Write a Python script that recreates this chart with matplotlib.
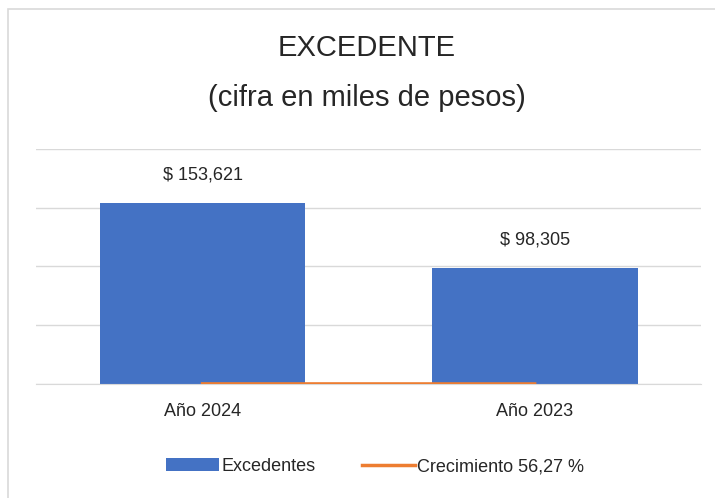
import matplotlib.pyplot as plt
from matplotlib.patches import Rectangle

# datos
categorias = ["Año 2024", "Año 2023"]
excedentes = [153621, 98305]
crecimiento = [56.27, 0]
etiquetas = ["$ 153,621", "$ 98,305"]

plt.rcParams['font.family'] = ['Liberation Sans', 'DejaVu Sans']

fig = plt.figure(figsize=(7.15, 4.98), dpi=100)
ax = fig.add_axes([0.051, 0.229, 0.929, 0.472])

x = list(range(len(categorias)))
barras = ax.bar(x, excedentes, width=0.62, color="#4472C4", label="Excedentes", zorder=2)
linea, = ax.plot(x, crecimiento, color="#ED7D31", linewidth=2.5, label="Crecimiento 56,27 %", zorder=3)

for xi, v, t in zip(x, excedentes, etiquetas):
    ax.annotate(t, (xi, v), xytext=(0, 14), textcoords="offset points",
                ha="center", va="bottom", fontsize=13, color="#262626")

ax.set_xlim(-0.5, 1.5)
ax.set_ylim(0, 200000)
ax.set_yticks([0, 50000, 100000, 150000, 200000])
ax.set_yticklabels([])
ax.tick_params(axis="y", length=0)
ax.tick_params(axis="x", length=0, pad=14, labelsize=13, labelcolor="#262626")
ax.set_xticks(x)
ax.set_xticklabels(categorias)
ax.grid(axis="y", color="#D9D9D9", linewidth=1, zorder=0)
for s in ["top", "right", "left"]:
    ax.spines[s].set_visible(False)
ax.spines["bottom"].set_color("#D9D9D9")

fig.text(0.513, 0.903, "EXCEDENTE", ha="center", va="center", fontsize=21, color="#262626")
fig.text(0.513, 0.803, "(cifra en miles de pesos)", ha="center", va="center", fontsize=21, color="#262626")

leg = fig.legend([barras, linea], ["Excedentes", "Crecimiento 56,27 %"],
                 loc="center", bbox_to_anchor=(0.525, 0.063), ncol=2, frameon=False,
                 fontsize=13, handlelength=2.9, handleheight=0.75, columnspacing=2.6,
                 handletextpad=0.15)
for t in leg.get_texts():
    t.set_color("#262626")

# borde del grafico
fig.patches.append(Rectangle((0.011, -0.01), 1.5, 0.992, transform=fig.transFigure,
                             fill=False, edgecolor="#D9D9D9", linewidth=1.2))

fig.savefig("out.png", dpi=100)
